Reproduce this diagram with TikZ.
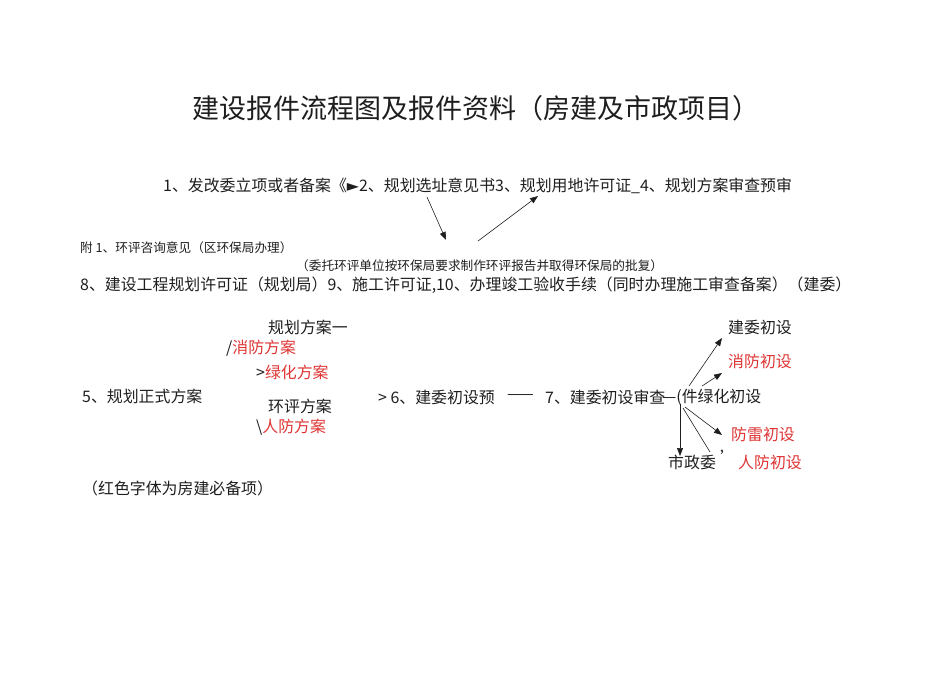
\documentclass[tikz,border=0pt]{standalone}
\usepackage{fontspec}
\setmainfont{Noto Sans CJK SC}
\newfontfamily\symfont{DejaVu Sans}
\usepackage{tikz}
\usepackage{color}
\usetikzlibrary{positioning,arrows.meta}
\definecolor{ink}{RGB}{30,30,30}
\definecolor{redtxt}{RGB}{222,52,52}

\begin{document}
\begin{tikzpicture}[x=1pt, y=-1pt,
						title/.style={inner sep=0pt, text=ink, font=\fontsize{27}{31}\selectfont},
						txt/.style={anchor=west, inner sep=0pt, text=ink, font=\fontsize{15.9}{18}\selectfont},
						note/.style={anchor=west, inner sep=0pt, text=ink, font=\fontsize{12.65}{14}\selectfont},
						red/.style={txt, text=redtxt}
					]
					\useasboundingbox (0,0) rectangle (950,672);
					\node[title] (title) at (476,108) {建设报件流程图及报件资料（房建及市政项目）};
					\node[txt] (step1) at (163,186) {1、发改委立项或者备案《{\symfont ►}2、规划选址意见书3、规划用地许可证\_4、规划方案审查预审};
					\node[note] (fu1) at (80,248) {附 1、环评咨询意见（区环保局办理）};
					\node[note] (weituo) at (296,266) {（委托环评单位按环保局要求制作环评报告并取得环保局的批复）};
					\node[txt] (step8) at (80,285) {8、建设工程规划许可证（规划局）9、施工许可证,10、办理竣工验收手续（同时办理施工审查备案）（建委）};
					% 5 to 7
					\node[txt] (ghfa) at (268,327) {规划方案一};
					\node[txt] (xffa) at (226,348) {/\textcolor{redtxt}{消防方案}};
					\node[txt] (lhfa) at (256,372) {>\textcolor{redtxt}{绿化方案}};
					\node[txt] (step5) at (82,396) {5、规划正式方案};
					\node[txt] (hpfa) at (268,406) {环评方案};
					\node[txt] (rffa) at (256,427) {\textbackslash\textcolor{redtxt}{人防方案}};
					\node[txt] (step6) at (378,397) {> 6、建委初设预};
					\node[txt] (dash) at (507,397) {——};
					\node[txt] (step7) at (545,397) {7、建委初设审查};
					\node[txt] (lhcs) at (662,397) {—(件绿化初设};
					\node[txt] (jwcs) at (728,327) {建委初设};
					\node[red] (xfcs) at (728,361) {消防初设};
					\node[red] (flcs) at (731,434) {防雷初设};
					\node[txt] (szw) at (668,462) {市政委};
					\node[txt] (tick) at (720,457) {’};
					\node[red] (rfcs) at (738,462) {人防初设};
					\node[txt] (hongse) at (82,488) {（红色字体为房建必备项）};
					% free ends
					\coordinate (s1) at (427,197);
					\coordinate (e1) at (446,240);
					\coordinate (s2) at (478,241);
					\coordinate (e2) at (538,196);
					\coordinate (h1) at (689,386);
					\coordinate (h2) at (702,386);
					\coordinate (h3) at (685,407);
					\coordinate (h4) at (680,404);
					\coordinate (h5) at (683,408);
					\coordinate (t1) at (722,338);
					\coordinate (t2) at (722,373);
					\coordinate (t3) at (722,435);
					\coordinate (t4) at (680,456);
					\coordinate (t5) at (710,452);
					\begin{scope}[semithick, ink, -{Triangle[length=8pt,width=6pt]}]
					\draw (s1) -- (e1);
					\draw (s2) -- (e2);
					\draw (h1) -- (t1);
					\draw (h2) -- (t2);
					\draw (h3) -- (t3);
					\draw (h4) -- (t4);
					\end{scope}
					\draw[semithick, ink] (h5) -- (t5);
					\end{tikzpicture}
\end{document}
